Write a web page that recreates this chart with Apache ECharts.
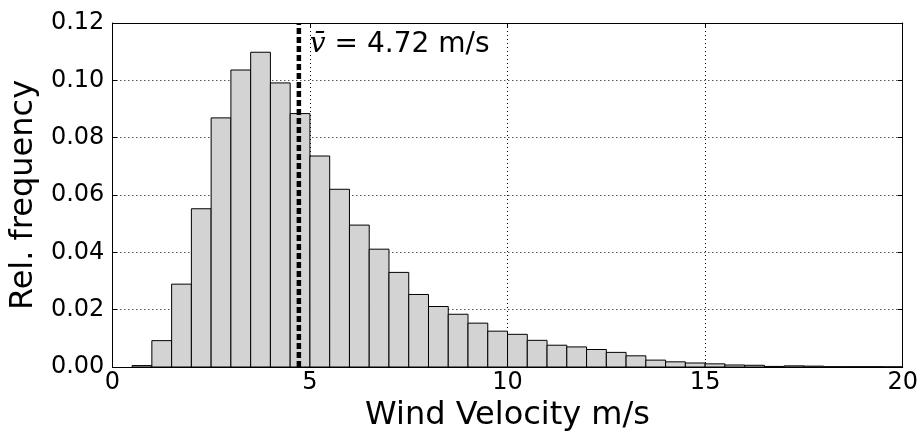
<!DOCTYPE html>
<html>
<head>
<meta charset="utf-8">
<script src="https://cdn.jsdelivr.net/npm/echarts@6/dist/echarts.min.js"></script>
<style>html,body{margin:0;padding:0;background:#fff}#chart{width:921px;height:437px}</style>
</head>
<body>
<div id="chart"></div>
<script>
const binStart = [0.5,1,1.5,2,2.5,3,3.5,4,4.5,5,5.5,6,6.5,7,7.5,8,8.5,9,9.5,10,10.5,11,11.5,12,12.5,13,13.5,14,14.5,15,15.5,16,16.5,17,17.5,18,18.5,19,19.5];
const binWidth = 0.5;
const relFreq = [0.0005,0.0092,0.0289,0.0552,0.0869,0.1036,0.1098,0.0991,0.0884,0.0736,0.0620,0.0495,0.0411,0.0330,0.0253,0.0211,0.0184,0.0153,0.0125,0.0114,0.0093,0.0076,0.0070,0.0061,0.0051,0.0039,0.0024,0.0018,0.0014,0.0011,0.0007,0.0006,0.0002,0.0004,0.0003,0.0001,0.0001,0.0001,0.00005];
const meanV = 4.72;
const meanLabel = '= 4.72 m/s';
const xTitle = 'Wind Velocity m/s';
const yTitle = 'Rel. frequency';

const chart = echarts.init(document.getElementById('chart'));
const font = 'DejaVu Sans';
const axisCommon = {
  axisLine:{show:true, onZero:false, lineStyle:{color:'#000', width:1}},
  axisTick:{show:true, inside:true, length:5, lineStyle:{color:'#000'}},
};
chart.setOption({
  animation:false,
  grid:{left:111, right:18, top:23, bottom:66, containLabel:false},
  xAxis:[
    Object.assign({type:'value', min:0, max:20, interval:5, position:'bottom',
      name:xTitle, nameLocation:'middle', nameGap:33,
      nameTextStyle:{fontFamily:font, fontSize:32, color:'#000'},
      axisLabel:{fontFamily:font, fontSize:24, color:'#000', margin:4},
      splitLine:{show:true, lineStyle:{color:'#000', type:[1,3], width:1}}}, axisCommon),
    Object.assign({type:'value', min:0, max:20, interval:5, position:'top',
      axisLabel:{show:false}, splitLine:{show:false}}, axisCommon)
  ],
  yAxis:[
    Object.assign({type:'value', min:0, max:0.12, interval:0.02, position:'left',
      name:yTitle, nameLocation:'middle', nameGap:69, nameRotate:90,
      nameTextStyle:{fontFamily:font, fontSize:32, color:'#000'},
      axisLabel:{fontFamily:font, fontSize:24, color:'#000', margin:8, formatter:v=>v.toFixed(2)},
      splitLine:{show:true, lineStyle:{color:'#000', type:[1,3], width:1}}}, axisCommon),
    Object.assign({type:'value', min:0, max:0.12, interval:0.02, position:'right',
      axisLabel:{show:false}, splitLine:{show:false}}, axisCommon)
  ],
  series:[
    {
      type:'custom',
      xAxisIndex:0, yAxisIndex:0,
      data: binStart.map((s,i)=>[s, s+binWidth, relFreq[i]]),
      encode:{x:[0,1], y:2},
      renderItem:function(params, api){
        const p0 = api.coord([api.value(0), 0]);
        const p1 = api.coord([api.value(1), api.value(2)]);
        return {type:'rect',
          shape:{x:p0[0], y:p1[1], width:p1[0]-p0[0], height:p0[1]-p1[1]},
          style:{fill:'#d3d3d3', stroke:'#000', lineWidth:1}};
      },
      z:2
    },
    {
      type:'line',
      xAxisIndex:0, yAxisIndex:0,
      data:[[meanV,0],[meanV,0.12]],
      symbol:'none',
      lineStyle:{color:'#000', width:4.5, type:[6,3]},
      z:5
    },
    {
      type:'scatter',
      xAxisIndex:0, yAxisIndex:0,
      data:[[meanV,0.1125]],
      symbolSize:0,
      itemStyle:{opacity:1},
      label:{show:true, position:'right', distance:11, color:'#000', opacity:1,
        formatter:'{v|v̄}{t| ' + meanLabel + '}',
        rich:{
          v:{fontFamily:'DejaVu Serif', fontStyle:'italic', fontSize:28, color:'#000'},
          t:{fontFamily:font, fontSize:28, color:'#000'}
        }},
      z:6
    }
  ]
});
</script>
</body>
</html>
